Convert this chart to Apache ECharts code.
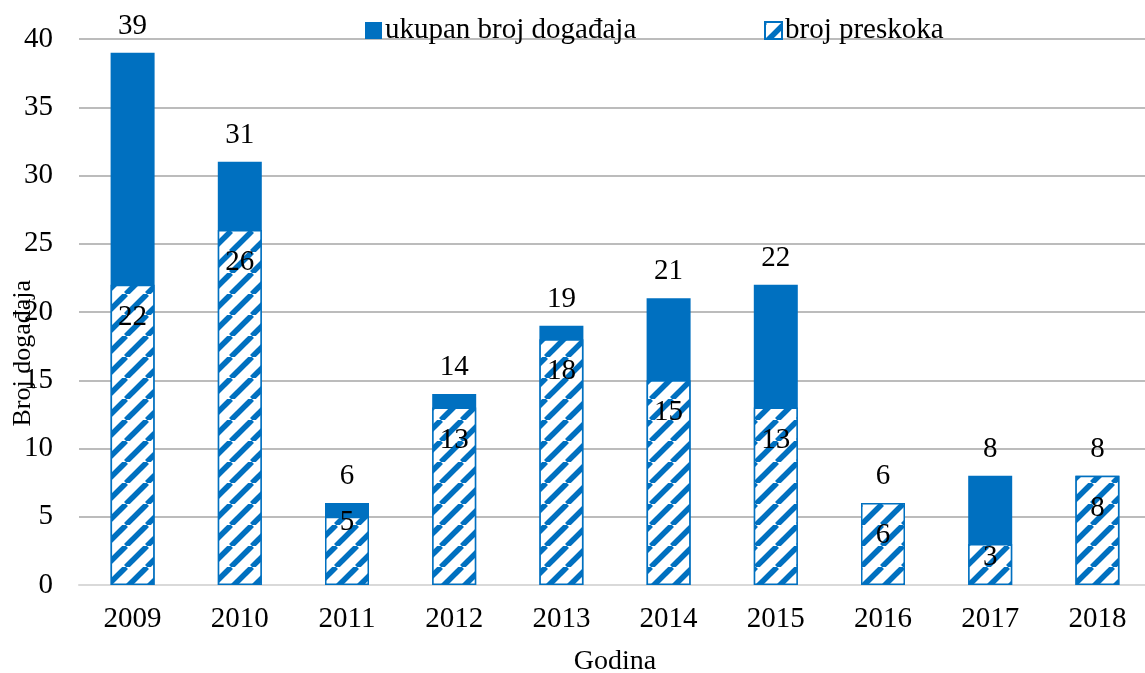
<!DOCTYPE html>
<html>
<head>
<meta charset="utf-8">
<script src="https://cdn.jsdelivr.net/npm/echarts@6/dist/echarts.min.js"></script>
<style>
  html, body { margin: 0; padding: 0; background: #fff; }
  #chart { width: 1145px; height: 673px; }
</style>
</head>
<body>
<div id="chart"></div>
<script>
// Godine i broj događaja po godini
const years = ['2009', '2010', '2011', '2012', '2013', '2014', '2015', '2016', '2017', '2018'];
const totalEvents = [39, 31, 6, 14, 19, 21, 22, 6, 8, 8];
const skipEvents = [22, 26, 5, 13, 18, 15, 13, 6, 3, 8];
const yTicks = { min: 0, max: 40, interval: 5 };

const BLUE = '#0070C0';
const FONT = '"Liberation Serif", "Times New Roman", serif';

// Diagonal hatch fill (white with blue stripes)
function makeHatch() {
  const size = 21;
  const c = document.createElement('canvas');
  c.width = size; c.height = size;
  const g = c.getContext('2d');
  g.fillStyle = '#fff';
  g.fillRect(0, 0, size, size);
  g.strokeStyle = BLUE;
  g.lineWidth = 5.5;
  for (const o of [-size, 0, size]) {
    g.beginPath();
    g.moveTo(o, size);
    g.lineTo(o + size, 0);
    g.stroke();
  }
  return c;
}
const hatch = { image: makeHatch(), repeat: 'repeat' };

// Labels on the short hatched bars sit closer to the bar top
const shortBarLabelDistance = { '2011': -9, '2017': -1 };
const skipData = skipEvents.map((v, i) => {
  const d = shortBarLabelDistance[years[i]];
  return d === undefined ? v : { value: v, label: { distance: d } };
});

const legendText = { fontFamily: FONT, fontSize: 29, color: '#000', padding: [0, 0, 0, -2] };

const chart = echarts.init(document.getElementById('chart'));
chart.setOption({
  animation: false,
  textStyle: { fontFamily: FONT },
  grid: {
    left: 79, top: 39, width: 1072, height: 546,
    containLabel: false,
    outerBoundsMode: 'none'
  },
  legend: [
    {
      data: ['ukupan broj događaja'],
      left: 360, top: 11,
      itemWidth: 17, itemHeight: 17, itemGap: 5,
      icon: 'rect',
      textStyle: legendText
    },
    {
      data: ['broj preskoka'],
      left: 759, top: 11,
      itemWidth: 17, itemHeight: 17, itemGap: 5,
      icon: 'rect',
      textStyle: legendText
    }
  ],
  xAxis: {
    type: 'category',
    data: years,
    name: 'Godina',
    nameLocation: 'middle',
    nameGap: 63,
    nameTextStyle: { fontFamily: FONT, fontSize: 28, color: '#000' },
    axisLine: { show: true, lineStyle: { color: '#D9D9D9', width: 2 } },
    axisTick: { show: false },
    axisLabel: { fontFamily: FONT, fontSize: 29, color: '#000', margin: 20 }
  },
  yAxis: {
    type: 'value',
    min: yTicks.min, max: yTicks.max, interval: yTicks.interval,
    axisLine: { show: false },
    axisTick: { show: false },
    axisLabel: { fontFamily: FONT, fontSize: 29, color: '#000', margin: 26 },
    splitLine: { lineStyle: { color: '#A6A6A6', width: 1.5 } }
  },
  graphic: [{
    type: 'text',
    left: 10, top: 280,
    rotation: Math.PI / 2,
    originX: 0, originY: 0,
    style: {
      text: 'Broj događaja',
      font: '26px ' + FONT,
      fill: '#000',
      textAlign: 'center',
      textVerticalAlign: 'middle'
    },
    silent: true
  }],
  series: [
    {
      name: 'ukupan broj događaja',
      type: 'bar',
      data: totalEvents,
      barWidth: 44,
      barGap: '-100%',
      itemStyle: { color: BLUE },
      label: {
        show: true, position: 'top', distance: 12,
        fontFamily: FONT, fontSize: 29, color: '#000'
      },
      z: 2
    },
    {
      name: 'broj preskoka',
      type: 'bar',
      data: skipData,
      barWidth: 44,
      barGap: '-100%',
      itemStyle: { color: hatch, borderColor: BLUE, borderWidth: 1.5 },
      label: {
        show: true, position: 'insideTop', distance: 18,
        fontFamily: FONT, fontSize: 29, color: '#000'
      },
      z: 3
    }
  ]
});
</script>
</body>
</html>
